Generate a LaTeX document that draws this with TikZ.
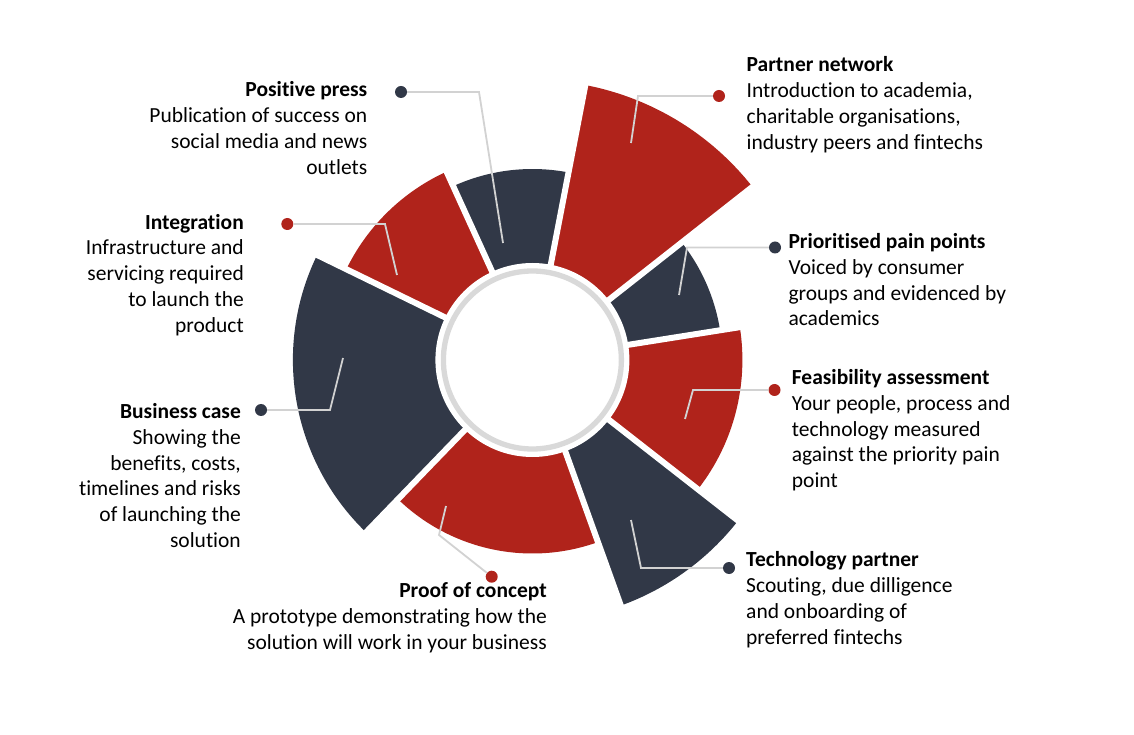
\documentclass[tikz,border=0pt]{standalone}
\usepackage{fontspec}
\setmainfont{Carlito}[Ligatures=NoCommon]
\definecolor{pwred}{HTML}{B0231B}
\definecolor{pwdark}{HTML}{313847}
\definecolor{ringgray}{HTML}{D9D9D9}
\definecolor{leadgray}{HTML}{D2D2D2}
\newcommand\pwsector[4]{\fill[#4] (C) -- ([shift={(#1:#3)}]C) arc[start angle=#1, end angle=#2, radius=#3] -- cycle;}
\newcommand\pwgap[1]{\draw[white, line width=6pt] (C) -- ([shift={(#1:320)}]C);}
\begin{document}
\begin{tikzpicture}[x=1pt,y=1pt,
  leader/.style={draw=leadgray, line width=1.8pt},
  dotnode/.style={circle, inner sep=0pt, minimum size=12pt},
  lbl/.style={inner sep=0pt, font=\fontsize{21.5}{25.8}\selectfont, text=black},
  lblr/.style={lbl, anchor=north east, align=right},
  lbll/.style={lbl, anchor=north west, align=left}]
\useasboundingbox (0,0) rectangle (1134,734);
\fill[white] (0,0) rectangle (1134,734);
\coordinate (C) at (532.4,374);
% sectors
\pwsector{79.1}{114.5}{191}{pwdark}
\pwsector{38.2}{79.1}{280}{pwred}
\pwsector{9}{38.2}{190}{pwdark}
\pwsector{-38}{9}{210}{pwred}
\pwsector{-70.2}{-38}{261}{pwdark}
\pwsector{-134}{-70.2}{193.5}{pwred}
\pwsector{154}{226}{239.5}{pwdark}
\pwsector{114.5}{154}{207}{pwred}
% gaps
\pwgap{79.1}\pwgap{38.2}\pwgap{9}\pwgap{-38}\pwgap{-70.2}\pwgap{-134}\pwgap{154}\pwgap{114.5}
% centre
\fill[white] (C) circle[radius=97];
\draw[ringgray, line width=5.3pt] (C) circle[radius=89];
% leaders
\coordinate (k1) at (479,642); \coordinate (e1) at (503,491);
\coordinate (k2) at (638,638); \coordinate (e2) at (631,591);
\coordinate (k3) at (385,510); \coordinate (e3) at (397,459);
\coordinate (k4) at (687,486.5); \coordinate (e4) at (679,439);
\coordinate (k5) at (693,344); \coordinate (e5) at (685,315);
\coordinate (k6) at (641,166); \coordinate (e6) at (631,214);
\coordinate (k7) at (439,199); \coordinate (e7) at (446,228);
\coordinate (k8) at (330,324); \coordinate (e8) at (343,376);
\node[dotnode, fill=pwdark] (d1) at (401,642) {};
\node[dotnode, fill=pwred] (d2) at (719,638) {};
\node[dotnode, fill=pwred] (d3) at (287.3,510) {};
\node[dotnode, fill=pwdark] (d4) at (775,486.5) {};
\node[dotnode, fill=pwred] (d5) at (774.5,344) {};
\node[dotnode, fill=pwdark] (d6) at (729,166) {};
\node[dotnode, fill=pwred] (d7) at (491.7,157.3) {};
\node[dotnode, fill=pwdark] (d8) at (261,324) {};
\draw[leader] (d1) -- (k1) -- (e1);
\draw[leader] (d2) -- (k2) -- (e2);
\draw[leader] (d3) -- (k3) -- (e3);
\draw[leader] (d4) -- (k4) -- (e4);
\draw[leader] (d5) -- (k5) -- (e5);
\draw[leader] (d6) -- (k6) -- (e6);
\draw[leader] (d7) -- (k7) -- (e7);
\draw[leader] (d8) -- (k8) -- (e8);
% labels
\node[lblr] (t1) at (367.5,655.4) {\textbf{\strut Positive press}\\Publication of success on\\social media and news\\outlets};
\node[lblr] (t3) at (244,523.1) {\textbf{\strut Integration}\\Infrastructure and\\servicing required\\to launch the\\product};
\node[lblr] (t8) at (241,333.8) {\textbf{\strut Business case}\\Showing the\\benefits, costs,\\timelines and risks\\of launching the\\solution};
\node[lblr] (t7) at (547,154.8) {\textbf{\strut Proof of concept}\\A prototype demonstrating how the\\solution will work in your business};
\node[lbll] (t2) at (746.5,680.4) {\textbf{\strut Partner network}\\Introduction to academia,\\charitable organisations,\\industry peers and fintechs};
\node[lbll] (t4) at (788.3,503.8) {\textbf{\strut Prioritised pain points}\\Voiced by consumer\\groups and evidenced by\\academics};
\node[lbll] (t5) at (791.7,367.8) {\textbf{\strut Feasibility assessment}\\Your people, process and\\technology measured\\against the priority pain\\point};
\node[lbll] (t6) at (746,185.4) {\textbf{\strut Technology partner}\\Scouting, due dilligence\\and onboarding of\\preferred fintechs};
\end{tikzpicture}
\end{document}
